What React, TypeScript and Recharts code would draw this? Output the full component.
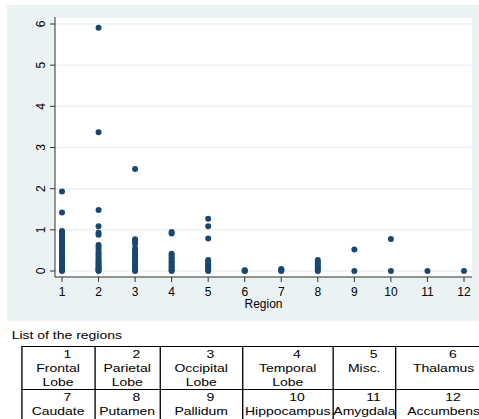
import { ScatterChart, Scatter, XAxis, YAxis, CartesianGrid } from "recharts";

// values, one list per region
const frontal = [1.93, 1.42, 0.97, 0.93, 0.88, 0.84, 0.8, 0.76, 0.72, 0.68, 0.64, 0.6, 0.55, 0.5, 0.46, 0.42, 0.38, 0.34, 0.3, 0.26, 0.22, 0.18, 0.14, 0.1, 0.07, 0.04, 0.02, 0];
const parietal = [5.91, 3.37, 1.48, 1.09, 0.93, 0.88, 0.63, 0.58, 0.52, 0.45, 0.4, 0.35, 0.3, 0.26, 0.22, 0.18, 0.14, 0.1, 0.07, 0.04, 0.02, 0];
const occipital = [2.48, 0.77, 0.72, 0.66, 0.55, 0.5, 0.44, 0.38, 0.33, 0.28, 0.23, 0.18, 0.14, 0.1, 0.06, 0.03, 0];
const temporal = [0.95, 0.91, 0.42, 0.38, 0.33, 0.29, 0.25, 0.21, 0.17, 0.13, 0.09, 0.05, 0.02, 0];
const misc = [1.27, 1.09, 0.79, 0.27, 0.23, 0.18, 0.14, 0.1, 0.06, 0.03, 0];
const thalamus = [0.02, 0.01, 0];
const caudate = [0.05, 0.03, 0.01, 0];
const putamen = [0.27, 0.22, 0.17, 0.12, 0.08, 0.04, 0];
const pallidum = [0.52, 0];
const hippocampus = [0.78, 0];
const amygdala = [0];
const accumbens = [0];

const regionValues = [frontal, parietal, occipital, temporal, misc, thalamus, caudate, putamen, pallidum, hippocampus, amygdala, accumbens];
const regionIds = [1, 2, 3, 4, 5, 6, 7, 8, 9, 10, 11, 12];
const regionNames = [
  ["Frontal", "Lobe"], ["Parietal", "Lobe"], ["Occipital", "Lobe"], ["Temporal", "Lobe"], ["Misc."], ["Thalamus"],
  ["Caudate"], ["Putamen"], ["Pallidum"], ["Hippocampus"], ["Amygdala"], ["Accumbens"],
];
const yTicks = [0, 1, 2, 3, 4, 5, 6];

const points = regionIds.flatMap((id, i) => regionValues[i].map((v) => ({ x: id, y: v })));

const FONT = '"Liberation Sans", Arial, sans-serif';
const navy = "#1a476f";
const colWidths = [55.1, 48.9, 62.4, 67.7, 47.4, 72];

const Dot = (props: any) => <circle cx={props.cx} cy={props.cy} r={3} fill={navy} />;

const YTick = (props: any) => (
  <text x={38} y={props.y} transform={`rotate(-90, 38, ${props.y})`} textAnchor="middle" fontSize={12} fill="#000" fontFamily={FONT}>
    {props.payload.value}
  </text>
);

export default function App() {
  const rows = [regionIds.slice(0, 6), regionIds.slice(6, 12)];
  return (
    <div style={{ position: "absolute", left: 0, top: 0, width: 479, height: 419, overflow: "hidden", background: "#fff", fontFamily: FONT }}>
      <div style={{ position: "absolute", left: 7, top: 5, width: 472, height: 316, background: "#eaf2f3" }}>
        <ScatterChart width={472} height={316} margin={{ top: 12, right: 7, bottom: 0, left: 0 }}>
          <CartesianGrid vertical={false} fill="#ffffff" stroke="#eaf2f3" strokeWidth={1.5} />
          <XAxis
            type="number"
            dataKey="x"
            domain={[1, 12]}
            ticks={regionIds}
            padding={{ left: 7, right: 8 }}
            height={44}
            tickSize={5}
            tickMargin={5}
            stroke="#333"
            tick={{ fontSize: 12, fill: "#000", fontFamily: FONT }}
            label={{ value: "Region", position: "insideBottom", offset: 13, fontSize: 12, fill: "#000", fontFamily: FONT }}
          />
          <YAxis
            type="number"
            dataKey="y"
            domain={[0, 6]}
            ticks={yTicks}
            padding={{ top: 7, bottom: 6 }}
            width={48}
            tickSize={5}
            stroke="#333"
            tick={<YTick />}
          />
          <Scatter data={points} shape={<Dot />} isAnimationActive={false} />
        </ScatterChart>
      </div>

      {/* region list, drawn narrow and stretched sideways like the source */}
      <div style={{ position: "absolute", left: 0, top: 320, width: 400, height: 99, transform: "scaleX(1.33)", transformOrigin: "0 0", fontSize: 10.5, lineHeight: "14px", color: "#000" }}>
        <div style={{ position: "absolute", left: 8.8, top: 8 }}>List of the regions</div>
        <table style={{ position: "absolute", left: 15.6, top: 26, width: 353.4, borderCollapse: "collapse", tableLayout: "fixed" }}>
          <colgroup>
            {colWidths.map((w, i) => <col key={i} style={{ width: w }} />)}
          </colgroup>
          <tbody>
            {rows.map((row, r) => (
              <tr key={r} style={{ height: r === 0 ? 42 : 30 }}>
                {row.map((id) => (
                  <td key={id} style={{ border: "1px solid #000", padding: 0, textAlign: "center", verticalAlign: "top", whiteSpace: "nowrap" }}>
                    <div style={{ paddingLeft: 14 }}>{id}</div>
                    {regionNames[id - 1].map((t) => <div key={t}>{t}</div>)}
                  </td>
                ))}
              </tr>
            ))}
          </tbody>
        </table>
      </div>
    </div>
  );
}
